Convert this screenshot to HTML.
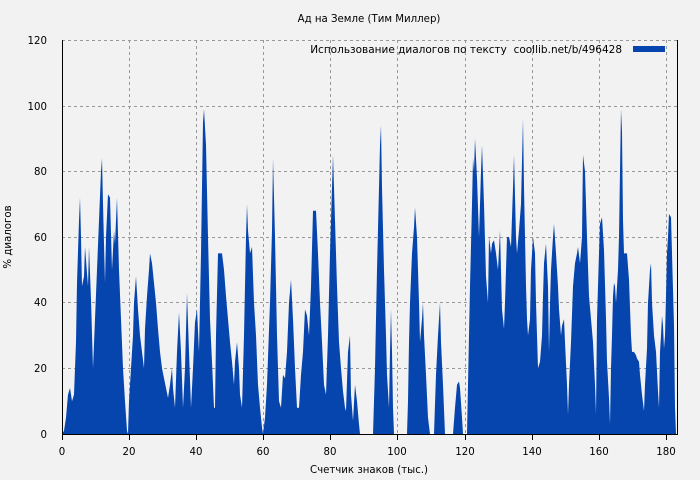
<!DOCTYPE html>
<html><head><meta charset="utf-8"><style>
body{margin:0;background:#f2f2f2;}
svg{display:block;font-family:"DejaVu Sans","Liberation Sans",sans-serif;font-size:10.2px;}
</style></head><body>
<svg id="s" width="700" height="480" xmlns="http://www.w3.org/2000/svg">
<rect width="700" height="480" fill="#f2f2f2"/>
<g stroke="#999" stroke-dasharray="3,3" stroke-width="1">
<line x1="62" y1="40.5" x2="678" y2="40.5"/>
<line x1="62" y1="106.5" x2="678" y2="106.5"/>
<line x1="62" y1="171.5" x2="678" y2="171.5"/>
<line x1="62" y1="237.5" x2="678" y2="237.5"/>
<line x1="62" y1="302.5" x2="678" y2="302.5"/>
<line x1="62" y1="368.5" x2="678" y2="368.5"/>
<line x1="129.5" y1="40" x2="129.5" y2="434"/>
<line x1="196.5" y1="40" x2="196.5" y2="434"/>
<line x1="263.5" y1="40" x2="263.5" y2="434"/>
<line x1="330.5" y1="40" x2="330.5" y2="434"/>
<line x1="397.5" y1="40" x2="397.5" y2="434"/>
<line x1="465.5" y1="40" x2="465.5" y2="434"/>
<line x1="532.5" y1="40" x2="532.5" y2="434"/>
<line x1="599.5" y1="40" x2="599.5" y2="434"/>
<line x1="666.5" y1="40" x2="666.5" y2="434"/>
</g>
<path id="bars" fill="#0645ad" d=""/>
<g stroke="#000" stroke-width="1">
<line x1="62.5" y1="40" x2="62.5" y2="434"/>
<line x1="677.5" y1="40" x2="677.5" y2="434"/>
<line x1="62" y1="434.5" x2="678" y2="434.5"/>
<line x1="62.5" y1="434" x2="62.5" y2="440"/>
<line x1="129.5" y1="434" x2="129.5" y2="440"/>
<line x1="196.5" y1="434" x2="196.5" y2="440"/>
<line x1="263.5" y1="434" x2="263.5" y2="440"/>
<line x1="330.5" y1="434" x2="330.5" y2="440"/>
<line x1="397.5" y1="434" x2="397.5" y2="440"/>
<line x1="465.5" y1="434" x2="465.5" y2="440"/>
<line x1="532.5" y1="434" x2="532.5" y2="440"/>
<line x1="599.5" y1="434" x2="599.5" y2="440"/>
<line x1="666.5" y1="434" x2="666.5" y2="440"/>
</g>
<g text-anchor="end" fill="#000">
<text x="47" y="44">120</text><text x="47" y="110">100</text><text x="47" y="175">80</text>
<text x="47" y="241">60</text><text x="47" y="306">40</text><text x="47" y="372">20</text><text x="47" y="438">0</text>
</g>
<g text-anchor="middle" fill="#000">
<text x="62" y="455">0</text><text x="129" y="455">20</text><text x="196" y="455">40</text>
<text x="263" y="455">60</text><text x="330" y="455">80</text><text x="397" y="455">100</text>
<text x="465" y="455">120</text><text x="532" y="455">140</text><text x="599" y="455">160</text><text x="666" y="455">180</text>
<text x="369" y="22">Ад на Земле (Тим Миллер)</text>
<text x="369" y="473">Счетчик знаков (тыс.)</text>
<text transform="translate(11,237) rotate(-90)">% диалогов</text>
</g>
<text x="622" y="53" text-anchor="end" style="font-size:10.5px">Использование диалогов по тексту&#160; coollib.net/b/496428</text>
<rect x="633" y="46" width="32" height="6" fill="#0645ad"/>
</svg>
<script>
var p=[62,0,64,1,66,5,68,12,70,14,72,10,74,12,76,28,77,46,79,65,80,72,81,60,82,45,84,48,85,57,86,53,88,45,89,57,91,41,93,20,95,35,97,50,99,65,101,80,102,84,103,70,105,46,106,60,108,73,110,72,112,50,114,62,115,58,117,72,119,50,121,35,123,20,125,10,127,1,128,0,
129,10,131,20,133,30,134,40,136,48,138,38,140,30,142,25,144,20,145,32,147,42,149,50,150,55,152,52,154,46,156,40,158,32,160,25,162,20,164,17,166,14,168,11,170,15,172,20,173,14,175,8,177,25,179,37,181,25,183,8,185,20,187,43,189,25,191,8,193,20,195,34,197,38,199,25,201,55,203,95,204,99,206,88,208,60,210,35,212,22,214,8,215,8,216,30,218,55,222,55,224,50,226,42,228,35,230,28,232,22,234,15,235,22,237,28,239,20,240,12,242,8,244,30,246,60,247,70,248,62,250,55,252,57,254,40,256,30,258,15,260,8,262,2,263,0,
265,5,267,15,270,40,272,62,273,84,275,60,277,30,279,10,281,8,283,18,285,17,287,25,289,40,291,47,293,35,295,20,297,8,299,8,301,18,303,25,305,38,307,36,309,30,311,45,313,68,316,68,318,55,320,40,322,28,324,15,326,12,328,30,330,55,332,75,333,85,335,65,337,45,339,28,341,20,343,13,345,8,346,7,348,25,350,30,351,12,353,4,355,15,357,10,359,3,360,0,373,0,
374,10,375,20,377,50,379,75,380,88,381,94,382,75,384,50,386,30,387,18,389,8,390,25,391,38,392,25,393,8,394,0,407,0,408,10,409,28,410,40,412,55,414,63,415,69,417,60,419,40,420,28,422,35,423,40,424,30,426,18,428,5,430,0,434,0,436,18,438,30,440,40,441,28,443,15,445,0,453,0,455,8,457,15,459,16,460,14,462,5,463,0,467,0,
468,15,470,45,472,70,473,84,474,80,475,90,477,78,479,60,481,80,482,88,484,70,486,48,488,40,489,60,491,55,492,58,494,59,496,55,498,50,500,62,502,38,504,32,505,40,507,60,509,60,511,57,513,75,514,85,516,60,517,55,519,62,521,70,523,96,524,75,526,45,527,35,528,30,530,35,531,50,533,60,535,55,536,40,538,20,540,22,542,30,543,42,544,52,546,58,548,45,549,25,550,40,551,50,553,60,554,64,556,55,558,45,559,38,561,30,562,33,564,35,565,28,567,15,568,6,569,15,571,28,573,45,575,52,577,55,578,57,580,52,582,60,583,85,585,80,587,60,589,42,591,35,593,28,595,15,596,6,597,35,599,55,600,64,602,66,604,56,606,35,607,22,609,11,610,3,611,20,612,30,613,42,614,46,615,45,616,40,618,50,619,60,620,80,621,99,622,92,623,65,624,55,627,55,629,47,631,30,632,25,634,25,636,24,637,23,639,22,640,18,642,12,644,7,645,15,647,26,648,40,650,50,651,52,652,40,654,30,656,25,658,13,659,8,660,25,661,30,662,36,663,33,664,26,665,30,666,42,667,55,668,60,669,67,671,66,672,55,674,33,675,8,676,0];
var d="M62,434";
for(var i=0;i<p.length;i+=2){d+=" L"+p[i]+","+(434-p[i+1]*3.283).toFixed(1);}
d+=" L676,434 Z";
document.getElementById("bars").setAttribute("d",d);
</script>
</body></html>
